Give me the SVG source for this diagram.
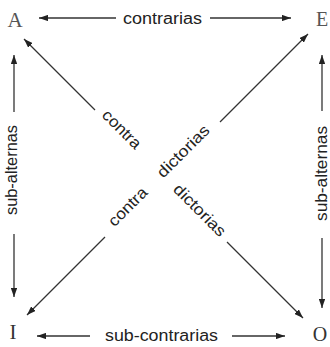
<svg xmlns="http://www.w3.org/2000/svg" width="330" height="347" viewBox="0 0 330 347">
  <style>
    .node { font-family: "Liberation Serif", "Times New Roman", serif; font-size: 21px; fill: #555; }
    .edge { stroke: #333; stroke-width: 1.3; fill: none; marker-end: url(#arrow); }
    .lbl { font-family: "Liberation Sans", Arial, sans-serif; font-size: 16px; fill: #222; text-anchor: middle; }
  </style>
  <defs>
    <marker id="arrow" viewBox="0 0 10 7" refX="10" refY="3.5" markerWidth="9" markerHeight="6.3" markerUnits="userSpaceOnUse" orient="auto">
      <path d="M0,0 L10,3.5 L0,7 z" fill="#222"/>
    </marker>
  </defs>
  <rect width="330" height="347" fill="#fff"/>

  <g id="node-A"><text class="node" x="15" y="27" text-anchor="middle">A</text></g>
  <g id="node-E"><text class="node" x="316" y="26" style="font-size:20px">E</text></g>
  <g id="node-I"><text class="node" x="13" y="339" text-anchor="middle" style="fill:#333">I</text></g>
  <g id="node-O"><text class="node" x="320" y="341" text-anchor="middle" style="fill:#333;font-size:20px">O</text></g>

  <g id="connectors">
    <!-- contrarias -->
    <line class="edge" x1="116" y1="18" x2="39" y2="18"/>
    <line class="edge" x1="210" y1="18" x2="291" y2="18"/>
    <!-- sub-contrarias -->
    <line class="edge" x1="90" y1="336" x2="37" y2="336"/>
    <line class="edge" x1="232" y1="336" x2="285" y2="336"/>
    <!-- left sub-alternas -->
    <line class="edge" x1="14" y1="112" x2="14" y2="55"/>
    <line class="edge" x1="14" y1="234" x2="14" y2="297"/>
    <!-- right sub-alternas -->
    <line class="edge" x1="322" y1="111" x2="322" y2="55"/>
    <line class="edge" x1="322" y1="238" x2="322" y2="308"/>
    <!-- diagonal A-O -->
    <line class="edge" x1="95" y1="110" x2="24" y2="39"/>
    <line class="edge" x1="227" y1="242" x2="303" y2="318"/>
    <!-- diagonal I-E -->
    <line class="edge" x1="105" y1="237" x2="27" y2="315"/>
    <line class="edge" x1="220" y1="122" x2="308" y2="34"/>
  </g>

  <g id="labels">
    <text class="lbl" x="162.5" y="24" textLength="79" lengthAdjust="spacingAndGlyphs">contrarias</text>
    <text class="lbl" x="161.5" y="341" textLength="113" lengthAdjust="spacingAndGlyphs">sub-contrarias</text>
    <text class="lbl" transform="translate(17,170) rotate(-90)" textLength="90" lengthAdjust="spacingAndGlyphs">sub-alternas</text>
    <text class="lbl" transform="translate(327,173.5) rotate(-90)" textLength="95" lengthAdjust="spacingAndGlyphs">sub-alternas</text>
    <text class="lbl" transform="translate(118,133) rotate(45)" textLength="48" lengthAdjust="spacingAndGlyphs">contra</text>
    <text class="lbl" transform="translate(196,214) rotate(45)" textLength="67" lengthAdjust="spacingAndGlyphs">dictorias</text>
    <text class="lbl" transform="translate(131.5,210.5) rotate(-45)" textLength="48" lengthAdjust="spacingAndGlyphs">contra</text>
    <text class="lbl" transform="translate(187,155) rotate(-45)" textLength="67" lengthAdjust="spacingAndGlyphs">dictorias</text>
  </g>
</svg>
